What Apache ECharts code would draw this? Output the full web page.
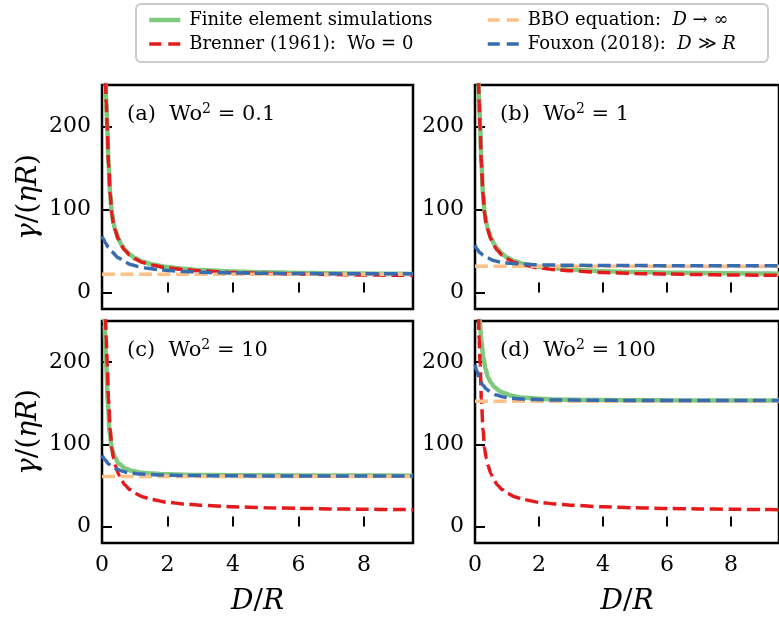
<!DOCTYPE html>
<html>
<head>
<meta charset="utf-8">
<script src="https://cdn.jsdelivr.net/npm/echarts@6/dist/echarts.min.js"></script>
<style>
html,body{margin:0;padding:0;background:#fff;}
#chart{width:779px;height:617px;}
</style>
</head>
<body>
<div id="chart"></div>
<script>
// ---- data ----
const xTicks = [0, 2, 4, 6, 8];
const yTicks = [0, 100, 200];
const panelTags = ['(a)', '(b)', '(c)', '(d)'];
const wo2Values = ['0.1', '1', '10', '100'];
const seriesNames = ['Finite element simulations', 'Brenner (1961):  Wo = 0', 'BBO equation:  D → ∞', 'Fouxon (2018):  D ≫ R'];

// Brenner (1961), same in every panel
const xBrenner = [0.11, 0.13, 0.16, 0.2, 0.25, 0.3, 0.35, 0.4, 0.5, 0.6, 0.7, 0.85, 1, 1.25, 1.5, 2, 2.5, 3, 4, 5, 6, 7, 8, 9, 9.5];
const yBrenner = [255, 228, 198, 155, 118, 95, 83, 75, 64, 56, 50.5, 45, 40.5, 36, 33, 29.5, 27.5, 26, 24, 22.9, 22.1, 21.5, 21, 20.7, 20.5];

// Finite element simulations
const xFE_a = [0.11, 0.13, 0.16, 0.2, 0.25, 0.3, 0.35, 0.4, 0.5, 0.6, 0.7, 0.85, 1, 1.25, 1.5, 2, 2.5, 3, 4, 5, 6, 7, 8, 9, 9.5];
const yFE_a = [256, 229, 199, 156, 119, 96, 84, 76, 65, 57, 51.5, 46, 41.5, 37, 34, 30.5, 28.5, 27, 25.2, 24.2, 23.5, 23, 22.7, 22.4, 22.3];
const xFE_b = [0.11, 0.13, 0.16, 0.2, 0.25, 0.3, 0.35, 0.4, 0.5, 0.6, 0.7, 0.85, 1, 1.25, 1.5, 2, 2.5, 3, 4, 5, 6, 7, 8, 9, 9.5];
const yFE_b = [256, 230, 200, 157, 120, 97, 85, 77, 66, 58, 52.5, 46.5, 42, 37.5, 34.5, 31, 29, 27.5, 25.6, 24.5, 23.8, 23.3, 23, 22.7, 22.6];
const xFE_c = [0.06, 0.08, 0.1, 0.13, 0.18, 0.23, 0.3, 0.4, 0.5, 0.7, 0.9, 1.25, 1.5, 2, 3, 4, 6, 8, 9.5];
const yFE_c = [262, 246, 224, 197, 150, 115, 95, 84, 77, 71, 67.8, 65.3, 64.4, 63.5, 62.8, 62.4, 62.1, 62, 61.9];
const xFE_d = [0.13, 0.15, 0.175, 0.2, 0.26, 0.33, 0.41, 0.5, 0.62, 0.8, 0.92, 1.15, 1.43, 2, 2.4, 3.8, 6, 9.5];
const yFE_d = [262, 250, 237, 225, 205, 192, 181, 175, 169, 164, 162, 159, 157, 155.5, 154.6, 153.8, 153.5, 153.3];

// BBO equation (constant levels)
const bboLevels = [22, 31.6, 61, 152.3];
const xBBO = [0, 9.5];

// Fouxon (2018)
const xFx_a = [0, 0.05, 0.1, 0.2, 0.3, 0.5, 0.7, 0.9, 1.1, 1.4, 1.72, 2, 2.5, 3, 4, 5, 6, 8, 9.5];
const yFx_a = [68, 64, 60, 54, 49, 41.7, 36.5, 33.3, 31.3, 29, 27.5, 26.5, 25.2, 24.4, 23.5, 23, 22.7, 22.5, 22.4];
const xFx_b = [0, 0.05, 0.15, 0.27, 0.4, 0.58, 0.8, 1.1, 1.5, 1.9, 2.5, 3.7, 5, 7, 9.5];
const yFx_b = [57, 53, 48, 44.5, 41.5, 38.4, 36.5, 35.2, 34, 33.3, 32.9, 32.5, 32.3, 32.2, 32.1];
const xFx_c = [0, 0.1, 0.2, 0.3, 0.45, 0.6, 0.8, 1.2, 1.8, 2.5, 3.5, 5, 7, 9.5];
const yFx_c = [86.5, 81, 76, 73, 70, 67.7, 65.5, 63.8, 62.6, 62.1, 61.8, 61.6, 61.5, 61.4];
const xFx_d = [0, 0.05, 0.15, 0.25, 0.36, 0.5, 0.67, 0.9, 1.13, 1.5, 2.4, 3.5, 5, 9.5];
const yFx_d = [197, 190, 179, 172, 167, 163, 160, 157.5, 156, 155, 154, 153.6, 153.4, 153.2];

// ---- build chart ----
const FONT = 'DejaVu Serif';
const zip = (xs, ys) => xs.map((x, i) => [x, ys[i]]);
const feX = [xFE_a, xFE_b, xFE_c, xFE_d], feY = [yFE_a, yFE_b, yFE_c, yFE_d];
const fxX = [xFx_a, xFx_b, xFx_c, xFx_d], fxY = [yFx_a, yFx_b, yFx_c, yFx_d];

const gridPos = [
  {left: 102, top: 85}, {left: 475, top: 85},
  {left: 102, top: 321}, {left: 475, top: 321}
];
const grids = gridPos.map(g => ({
  left: g.left, top: g.top, width: 311, height: 224,
  show: true, borderColor: '#000', borderWidth: 2.5, backgroundColor: 'transparent', containLabel: false
}));

const italicRich = {
  i: {fontFamily: FONT, fontStyle: 'italic', fontSize: 28, color: '#000'},
  n: {fontFamily: FONT, fontSize: 28, color: '#000'}
};

const xAxes = gridPos.map((g, p) => ({
  type: 'value', gridIndex: p, min: 0, max: 9.5,
  axisLine: {show: false},
  splitLine: {show: false},
  axisTick: {show: true, inside: true, length: 10, customValues: xTicks, lineStyle: {color: '#000', width: 2}},
  axisLabel: {show: p >= 2, customValues: xTicks, margin: 11, fontFamily: FONT, fontSize: 22, color: '#000'},
  name: p >= 2 ? '{i|D}{n|/}{i|R}' : '',
  nameLocation: 'middle', nameGap: 45,
  nameTextStyle: {rich: italicRich}
}));
const yAxes = gridPos.map((g, p) => ({
  type: 'value', gridIndex: p, min: -20, max: 250,
  axisLine: {show: false},
  splitLine: {show: false},
  axisTick: {show: true, inside: true, length: 10, customValues: yTicks, lineStyle: {color: '#000', width: 2}},
  axisLabel: {show: true, customValues: yTicks, margin: 11, fontFamily: FONT, fontSize: 22, color: '#000'},
  name: (p % 2 === 0) ? '{i|γ}{n|/(}{i|ηR}{n|)}' : '',
  nameLocation: 'middle', nameGap: 59, nameRotate: 90,
  nameTextStyle: {rich: italicRich}
}));

const COLORS = ['#7fc97f', '#e41a1c', '#fdc086', '#386cb0'];
const DASH = [13, 5.5];
const DASH_W = 3.5;
const series = [];
for (let p = 0; p < 4; p++) {
  const common = {type: 'line', xAxisIndex: p, yAxisIndex: p, symbol: 'none', showSymbol: false,
    smooth: 0.25, smoothMonotone: 'x', animation: false, clip: true, emphasis: {disabled: true}};
  series.push(Object.assign({}, common, {
    name: seriesNames[0], data: zip(feX[p], feY[p]), z: 2,
    lineStyle: {color: COLORS[0], width: 4.5}, itemStyle: {color: COLORS[0]}
  }));
  series.push(Object.assign({}, common, {
    name: seriesNames[1], data: zip(xBrenner, yBrenner), z: 3,
    lineStyle: {color: COLORS[1], width: DASH_W, type: DASH}, itemStyle: {color: COLORS[1]}
  }));
  series.push(Object.assign({}, common, {
    name: seriesNames[2], data: zip(xBBO, [bboLevels[p], bboLevels[p]]), z: 4, smooth: false,
    lineStyle: {color: COLORS[2], width: DASH_W, type: DASH}, itemStyle: {color: COLORS[2]}
  }));
  series.push(Object.assign({}, common, {
    name: seriesNames[3], data: zip(fxX[p], fxY[p]), z: 5,
    lineStyle: {color: COLORS[3], width: DASH_W, type: DASH}, itemStyle: {color: COLORS[3]}
  }));
}

const legendRich = {
  n: {fontFamily: FONT, fontSize: 18, color: '#000'},
  i: {fontFamily: FONT, fontSize: 18, fontStyle: 'italic', color: '#000'}
};
const legendFormatter = name => {
  if (name === seriesNames[0]) return '{n|Finite element simulations}';
  if (name === seriesNames[1]) return '{n|Brenner (1961):  Wo = 0}';
  if (name === seriesNames[2]) return '{n|BBO equation:  }{i|D}{n| → ∞}';
  return '{n|Fouxon (2018):  }{i|D}{n| ≫ }{i|R}';
};
const legendItem = (idx) => ({
  name: seriesNames[idx],
  itemStyle: {color: 'transparent', borderWidth: 0, opacity: 0},
  lineStyle: idx === 0
    ? {color: COLORS[0], width: 4.5, type: 'solid', opacity: 1}
    : {color: COLORS[idx], width: DASH_W, type: [12, 7], opacity: 1}
});
const legendBase = {
  orient: 'vertical', itemWidth: 31, itemHeight: 14, itemGap: 4, selectedMode: false,
  formatter: legendFormatter,
  itemStyle: {color: 'transparent', borderWidth: 0, opacity: 0},
  textStyle: {fontFamily: FONT, fontSize: 18, lineHeight: 20, padding: [0, 0, 0, 4], rich: legendRich}
};

const annotations = [];
for (let p = 0; p < 4; p++) {
  annotations.push({
    type: 'text', left: gridPos[p].left + 25, top: gridPos[p].top + 17, z: 100,
    style: {
      text: '{n|' + panelTags[p] + '  Wo}{s|2}{n| = ' + wo2Values[p] + '}',
      rich: {
        n: {fontFamily: FONT, fontSize: 21, lineHeight: 23, verticalAlign: 'bottom', fill: '#000'},
        s: {fontFamily: FONT, fontSize: 14, lineHeight: 23, verticalAlign: 'top', fill: '#000'}
      }
    }
  });
}

const option = {
  animation: false,
  backgroundColor: '#fff',
  grid: grids,
  xAxis: xAxes,
  yAxis: yAxes,
  series: series,
  legend: [
    Object.assign({}, legendBase, {left: 142, top: 5, data: [legendItem(0), legendItem(1)]}),
    Object.assign({}, legendBase, {left: 481, top: 5, data: [legendItem(2), legendItem(3)]})
  ],
  graphic: [
    {type: 'rect', left: 135, top: 3, z: -1, shape: {width: 632, height: 58, r: 5},
     style: {fill: '#fff', stroke: '#cccccc', lineWidth: 2}},
    ...annotations
  ]
};

const chart = echarts.init(document.getElementById('chart'), null, {renderer: 'canvas'});
chart.setOption(option);
</script>
</body>
</html>
